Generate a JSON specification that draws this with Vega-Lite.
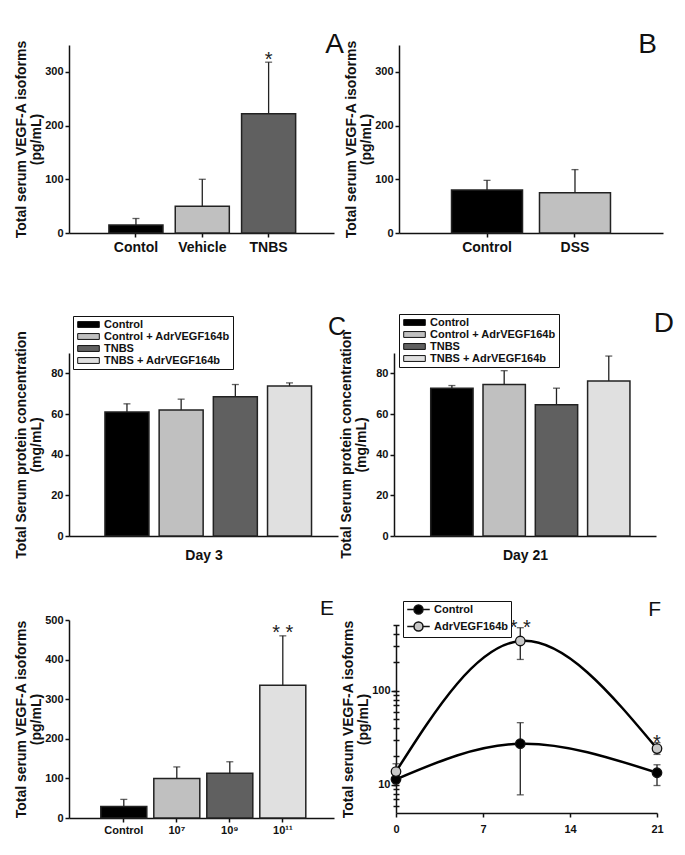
{
  "$schema": "https://vega.github.io/schema/vega-lite/v6.json",
  "background": "white",
  "padding": {"left": 14, "top": 30, "right": 5, "bottom": 5},
  "spacing": 55,
  "resolve": {"scale": {"fill": "independent"}, "legend": {"fill": "independent"}},
  "config": {
    "font": "Liberation Sans",
    "view": {"stroke": null},
    "axis": {"domainColor": "#111", "domainWidth": 1.5, "tickColor": "#111", "tickWidth": 1.5, "tickSize": 4, "labelFontWeight": "bold", "labelFontSize": 11, "labelColor": "#111", "labelFont": "Liberation Sans", "titleFont": "Liberation Sans", "titleFontSize": 14, "titleFontWeight": "bold", "titleColor": "#111", "grid": false, "labelPadding": 2, "titlePadding": 1, "titleLineHeight": 15, "labelOverlap": false, "labelBound": false, "labelFlush": false},
    "title": {"fontSize": 28, "fontWeight": "normal", "anchor": "end", "frame": "group", "color": "#111", "font": "Liberation Sans"},
    "legend": {"labelFont": "Liberation Sans", "labelFontSize": 11, "labelFontWeight": "bold", "labelColor": "#111"}
  },
  "vconcat": [
    {
      "hconcat": [
        {
          "width": 265, "height": 188,
          "title": {"text": "A", "offset": -19, "dx": 10},
          "data": {"values": [
            {"g": "Contol", "v": 15, "e": 27},
            {"g": "Vehicle", "v": 50, "e": 100},
            {"g": "TNBS", "v": 222, "e": 318, "star": "*"}
          ]},
          "encoding": {"x": {"field": "g", "type": "nominal", "sort": null, "scale": {"paddingInner": 0.185, "paddingOuter": 0.59, "align": 0.51}, "axis": {"title": null, "labelAngle": 0, "labelFontSize": 14, "labelPadding": 3}}},
          "resolve": {"axis": {"y": "independent"}},
          "layer": [
            {"mark": {"type": "bar", "stroke": "#222", "strokeWidth": 1.5},
             "encoding": {"y": {"field": "v", "type": "quantitative", "scale": {"domain": [0, 350], "nice": false}, "axis": {"orient": "left", "values": [0, 100, 200, 300], "title": ["Total serum VEGF-A isoforms", "(pg/mL)"]}},
                          "fill": {"field": "g", "type": "nominal", "scale": {"domain": ["Contol", "Vehicle", "TNBS"], "range": ["#000000", "#c0c0c0", "#606060"]}, "legend": null}}},
            {"mark": {"type": "rule", "color": "#222", "strokeWidth": 1.3}, "encoding": {"y": {"field": "v", "type": "quantitative", "axis": null}, "y2": {"field": "e"}}},
            {"mark": {"type": "tick", "color": "#222", "thickness": 1.3, "size": 7}, "encoding": {"y": {"field": "e", "type": "quantitative", "axis": null}}},
            {"transform": [{"filter": "datum.star"}], "mark": {"type": "text", "fontSize": 20, "baseline": "alphabetic", "dy": 4, "color": "#222"}, "encoding": {"y": {"field": "e", "type": "quantitative", "axis": null}, "text": {"field": "star"}}}
          ]
        },
        {
          "width": 264, "height": 188,
          "title": {"text": "B", "offset": -19, "dx": -6},
          "data": {"values": [
            {"g": "Control", "v": 80, "e": 98},
            {"g": "DSS", "v": 75, "e": 118}
          ]},
          "encoding": {"x": {"field": "g", "type": "nominal", "sort": null, "scale": {"paddingInner": 0.193, "paddingOuter": 0.597, "align": 0.5}, "axis": {"title": null, "labelAngle": 0, "labelFontSize": 14, "labelPadding": 3}}},
          "resolve": {"axis": {"y": "independent"}},
          "layer": [
            {"mark": {"type": "bar", "stroke": "#222", "strokeWidth": 1.5},
             "encoding": {"y": {"field": "v", "type": "quantitative", "scale": {"domain": [0, 350], "nice": false}, "axis": {"orient": "left", "values": [0, 100, 200, 300], "title": ["Total serum VEGF-A isoforms", "(pg/mL)"]}},
                          "fill": {"field": "g", "type": "nominal", "scale": {"domain": ["Control", "DSS"], "range": ["#000000", "#c0c0c0"]}, "legend": null}}},
            {"mark": {"type": "rule", "color": "#222", "strokeWidth": 1.3}, "encoding": {"y": {"field": "v", "type": "quantitative", "axis": null}, "y2": {"field": "e"}}},
            {"mark": {"type": "tick", "color": "#222", "thickness": 1.3, "size": 7}, "encoding": {"y": {"field": "e", "type": "quantitative", "axis": null}}}
          ]
        }
      ],
      "spacing": 65,
      "bounds": "flush",
      "resolve": {"scale": {"fill": "independent"}, "legend": {"fill": "independent"}}
    },
    {
      "vconcat": [
        {
          "hconcat": [
            {
              "width": 269, "height": 183,
              "title": {"text": "C", "offset": -24, "dx": 8, "fontSize": 25},
              "data": {"values": [
                {"g": "Control", "v": 61, "e": 65},
                {"g": "Control + AdrVEGF164b", "v": 62, "e": 67.3},
                {"g": "TNBS", "v": 68.5, "e": 74.5},
                {"g": "TNBS + AdrVEGF164b", "v": 73.8, "e": 75.3}
              ]},
              "encoding": {"x": {"field": "g", "type": "nominal", "sort": null, "scale": {"paddingInner": 0.188, "paddingOuter": 0.576, "align": 0.576}, "axis": {"title": "Day 3", "labels": false, "ticks": false, "titlePadding": 12}}},
              "resolve": {"axis": {"y": "independent"}},
              "layer": [
                {"mark": {"type": "bar", "stroke": "#222", "strokeWidth": 1.5},
                 "encoding": {"y": {"field": "v", "type": "quantitative", "scale": {"domain": [0, 90], "nice": false}, "axis": {"orient": "left", "values": [0, 20, 40, 60, 80], "titlePadding": 7, "title": ["Total Serum protein concentration", "(mg/mL)"]}},
                              "fill": {"field": "g", "type": "nominal", "scale": {"domain": ["Control", "Control + AdrVEGF164b", "TNBS", "TNBS + AdrVEGF164b"], "range": ["#000000", "#c0c0c0", "#606060", "#e0e0e0"]},
                                       "legend": {"orient": "none", "legendX": 4, "legendY": -37, "title": null, "strokeColor": "#111", "fillColor": "white", "padding": 3, "rowPadding": 0, "symbolType": "M-2.4,-0.65L2.4,-0.65L2.4,0.65L-2.4,0.65Z", "symbolSize": 81, "symbolStrokeColor": "#111", "symbolStrokeWidth": 1, "labelOffset": 10, "symbolOffset": 7}}}},
                {"mark": {"type": "rule", "color": "#222", "strokeWidth": 1.3}, "encoding": {"y": {"field": "v", "type": "quantitative", "axis": null}, "y2": {"field": "e"}}},
                {"mark": {"type": "tick", "color": "#222", "thickness": 1.3, "size": 7}, "encoding": {"y": {"field": "e", "type": "quantitative", "axis": null}}}
              ]
            },
            {
              "width": 262, "height": 183,
              "title": {"text": "D", "offset": -24, "dx": 18},
              "data": {"values": [
                {"g": "Control", "v": 72.7, "e": 74},
                {"g": "Control + AdrVEGF164b", "v": 74.5, "e": 81.3},
                {"g": "TNBS", "v": 64.5, "e": 72.7},
                {"g": "TNBS + AdrVEGF164b", "v": 76.2, "e": 88.5}
              ]},
              "encoding": {"x": {"field": "g", "type": "nominal", "sort": null, "scale": {"paddingInner": 0.19, "paddingOuter": 0.6, "align": 0.585}, "axis": {"title": "Day 21", "labels": false, "ticks": false, "titlePadding": 12}}},
              "resolve": {"axis": {"y": "independent"}},
              "layer": [
                {"mark": {"type": "bar", "stroke": "#222", "strokeWidth": 1.5},
                 "encoding": {"y": {"field": "v", "type": "quantitative", "scale": {"domain": [0, 90], "nice": false}, "axis": {"orient": "left", "values": [0, 20, 40, 60, 80], "titlePadding": 7, "title": ["Total Serum protein concentration", "(mg/mL)"]}},
                              "fill": {"field": "g", "type": "nominal", "scale": {"domain": ["Control", "Control + AdrVEGF164b", "TNBS", "TNBS + AdrVEGF164b"], "range": ["#000000", "#c0c0c0", "#606060", "#e0e0e0"]},
                                       "legend": {"orient": "none", "legendX": 5, "legendY": -39, "title": null, "strokeColor": "#111", "fillColor": "white", "padding": 3, "rowPadding": 0, "symbolType": "M-2.4,-0.65L2.4,-0.65L2.4,0.65L-2.4,0.65Z", "symbolSize": 81, "symbolStrokeColor": "#111", "symbolStrokeWidth": 1, "labelOffset": 10, "symbolOffset": 7}}}},
                {"mark": {"type": "rule", "color": "#222", "strokeWidth": 1.3}, "encoding": {"y": {"field": "v", "type": "quantitative", "axis": null}, "y2": {"field": "e"}}},
                {"mark": {"type": "tick", "color": "#222", "thickness": 1.3, "size": 7}, "encoding": {"y": {"field": "e", "type": "quantitative", "axis": null}}}
              ]
            }
          ],
          "spacing": 56,
          "bounds": "flush",
          "resolve": {"scale": {"fill": "independent"}, "legend": {"fill": "independent"}}
        },
        {
          "hconcat": [
            {
              "width": 265, "height": 198,
              "title": {"text": "E", "offset": -5, "dx": 0, "fontSize": 21},
              "data": {"values": [
                {"g": "Control", "v": 29, "e": 47},
                {"g": "10⁷", "v": 100, "e": 129},
                {"g": "10⁹", "v": 113, "e": 142},
                {"g": "10¹¹", "v": 335, "e": 460, "star": "* *"}
              ]},
              "encoding": {"x": {"field": "g", "type": "nominal", "sort": null, "scale": {"paddingInner": 0.132, "paddingOuter": 0.566, "align": 0.53}, "axis": {"title": null, "labelAngle": 0, "labelFontSize": 11, "labelPadding": 2}}},
              "resolve": {"axis": {"y": "independent"}},
              "layer": [
                {"mark": {"type": "bar", "stroke": "#222", "strokeWidth": 1.5},
                 "encoding": {"y": {"field": "v", "type": "quantitative", "scale": {"domain": [0, 500], "nice": false}, "axis": {"orient": "left", "values": [0, 100, 200, 300, 400, 500], "title": ["Total serum VEGF-A isoforms", "(pg/mL)"]}},
                              "fill": {"field": "g", "type": "nominal", "scale": {"domain": ["Control", "10⁷", "10⁹", "10¹¹"], "range": ["#000000", "#c0c0c0", "#606060", "#e0e0e0"]}, "legend": null}}},
                {"mark": {"type": "rule", "color": "#222", "strokeWidth": 1.3}, "encoding": {"y": {"field": "v", "type": "quantitative", "axis": null}, "y2": {"field": "e"}}},
                {"mark": {"type": "tick", "color": "#222", "thickness": 1.3, "size": 7}, "encoding": {"y": {"field": "e", "type": "quantitative", "axis": null}}},
                {"transform": [{"filter": "datum.star"}], "mark": {"type": "text", "fontSize": 20, "baseline": "alphabetic", "dy": 3, "color": "#222"}, "encoding": {"y": {"field": "e", "type": "quantitative", "axis": null}, "text": {"field": "star"}}}
              ]
            },
            {
              "width": 261, "height": 188,
              "title": {"text": "F", "offset": -19, "dx": 4, "fontSize": 21},
              "data": {"values": [
                {"s": "Control", "d": 0, "m": 11.4, "lo": 10.6, "hi": 12.3},
                {"s": "Control", "d": 10, "m": 27.3, "lo": 7.8, "hi": 45.7},
                {"s": "Control", "d": 21, "m": 13.4, "lo": 9.8, "hi": 16.3},
                {"s": "AdrVEGF164b", "d": 0, "m": 13.8, "lo": 12.6, "hi": 16.7},
                {"s": "AdrVEGF164b", "d": 10, "m": 338, "lo": 215, "hi": 468, "star": "* *"},
                {"s": "AdrVEGF164b", "d": 21, "m": 24.2, "lo": 21, "hi": 28, "star": "*"}
              ]},
              "encoding": {"x": {"field": "d", "type": "quantitative", "scale": {"domain": [0, 21], "nice": false}, "axis": {"values": [0, 7, 14, 21], "title": null, "labelPadding": 6}}},
              "resolve": {"axis": {"y": "independent"}},
              "layer": [
                {"mark": {"type": "rule", "color": "#222", "strokeWidth": 1.3},
                 "encoding": {"y": {"field": "lo", "type": "quantitative", "scale": {"type": "log", "domain": [5, 500], "nice": false}, "axis": {"orient": "left", "values": [6, 7, 8, 9, 10, 20, 30, 40, 50, 60, 70, 80, 90, 100, 200, 300, 400, 500], "labels": false, "domain": false, "tickSize": 6, "offset": -3, "title": null}}, "y2": {"field": "hi"}}},
                {"mark": {"type": "tick", "orient": "horizontal", "color": "#222", "thickness": 1.3, "size": 7}, "encoding": {"y": {"field": "lo", "type": "quantitative", "axis": null}}},
                {"mark": {"type": "tick", "orient": "horizontal", "color": "#222", "thickness": 1.3, "size": 7}, "encoding": {"y": {"field": "hi", "type": "quantitative", "axis": null}}},
                {"mark": {"type": "line", "interpolate": "natural", "color": "#000", "strokeWidth": 2.5},
                 "encoding": {"y": {"field": "m", "type": "quantitative", "axis": {"orient": "left", "values": [10, 100], "format": "d", "tickSize": 5, "labelPadding": 1, "title": ["Total serum VEGF-A isoforms", "(pg/mL)"]}}, "detail": {"field": "s"}}},
                {"mark": {"type": "point", "filled": true, "size": 90, "stroke": "#111", "strokeWidth": 1.3, "opacity": 1},
                 "encoding": {"y": {"field": "m", "type": "quantitative", "axis": null},
                              "fill": {"field": "s", "type": "nominal", "scale": {"domain": ["Control", "AdrVEGF164b"], "range": ["#000000", "#c8c8c8"]},
                                       "legend": {"orient": "none", "legendX": 7, "legendY": -24, "title": null, "strokeColor": "#111", "fillColor": "white", "padding": 3, "rowPadding": 2, "symbolType": "M-2.5,0L-1,0M1,0L2.5,0M-1,0A1,1 0 1,1 1,0A1,1 0 1,1 -1,0Z", "symbolSize": 81, "symbolStrokeColor": "#111", "symbolStrokeWidth": 1.5, "labelOffset": 10, "symbolOffset": 7}}}},
                {"transform": [{"filter": "datum.star"}], "mark": {"type": "text", "fontSize": 20, "baseline": "alphabetic", "dy": 6, "color": "#222"}, "encoding": {"y": {"field": "hi", "type": "quantitative", "axis": null}, "text": {"field": "star"}}}
              ]
            }
          ],
          "spacing": 62,
          "bounds": "flush",
          "center": true,
          "resolve": {"scale": {"fill": "independent"}, "legend": {"fill": "independent"}}
        }
      ],
      "spacing": 36,
      "resolve": {"scale": {"fill": "independent"}, "legend": {"fill": "independent"}}
    }
  ]
}
